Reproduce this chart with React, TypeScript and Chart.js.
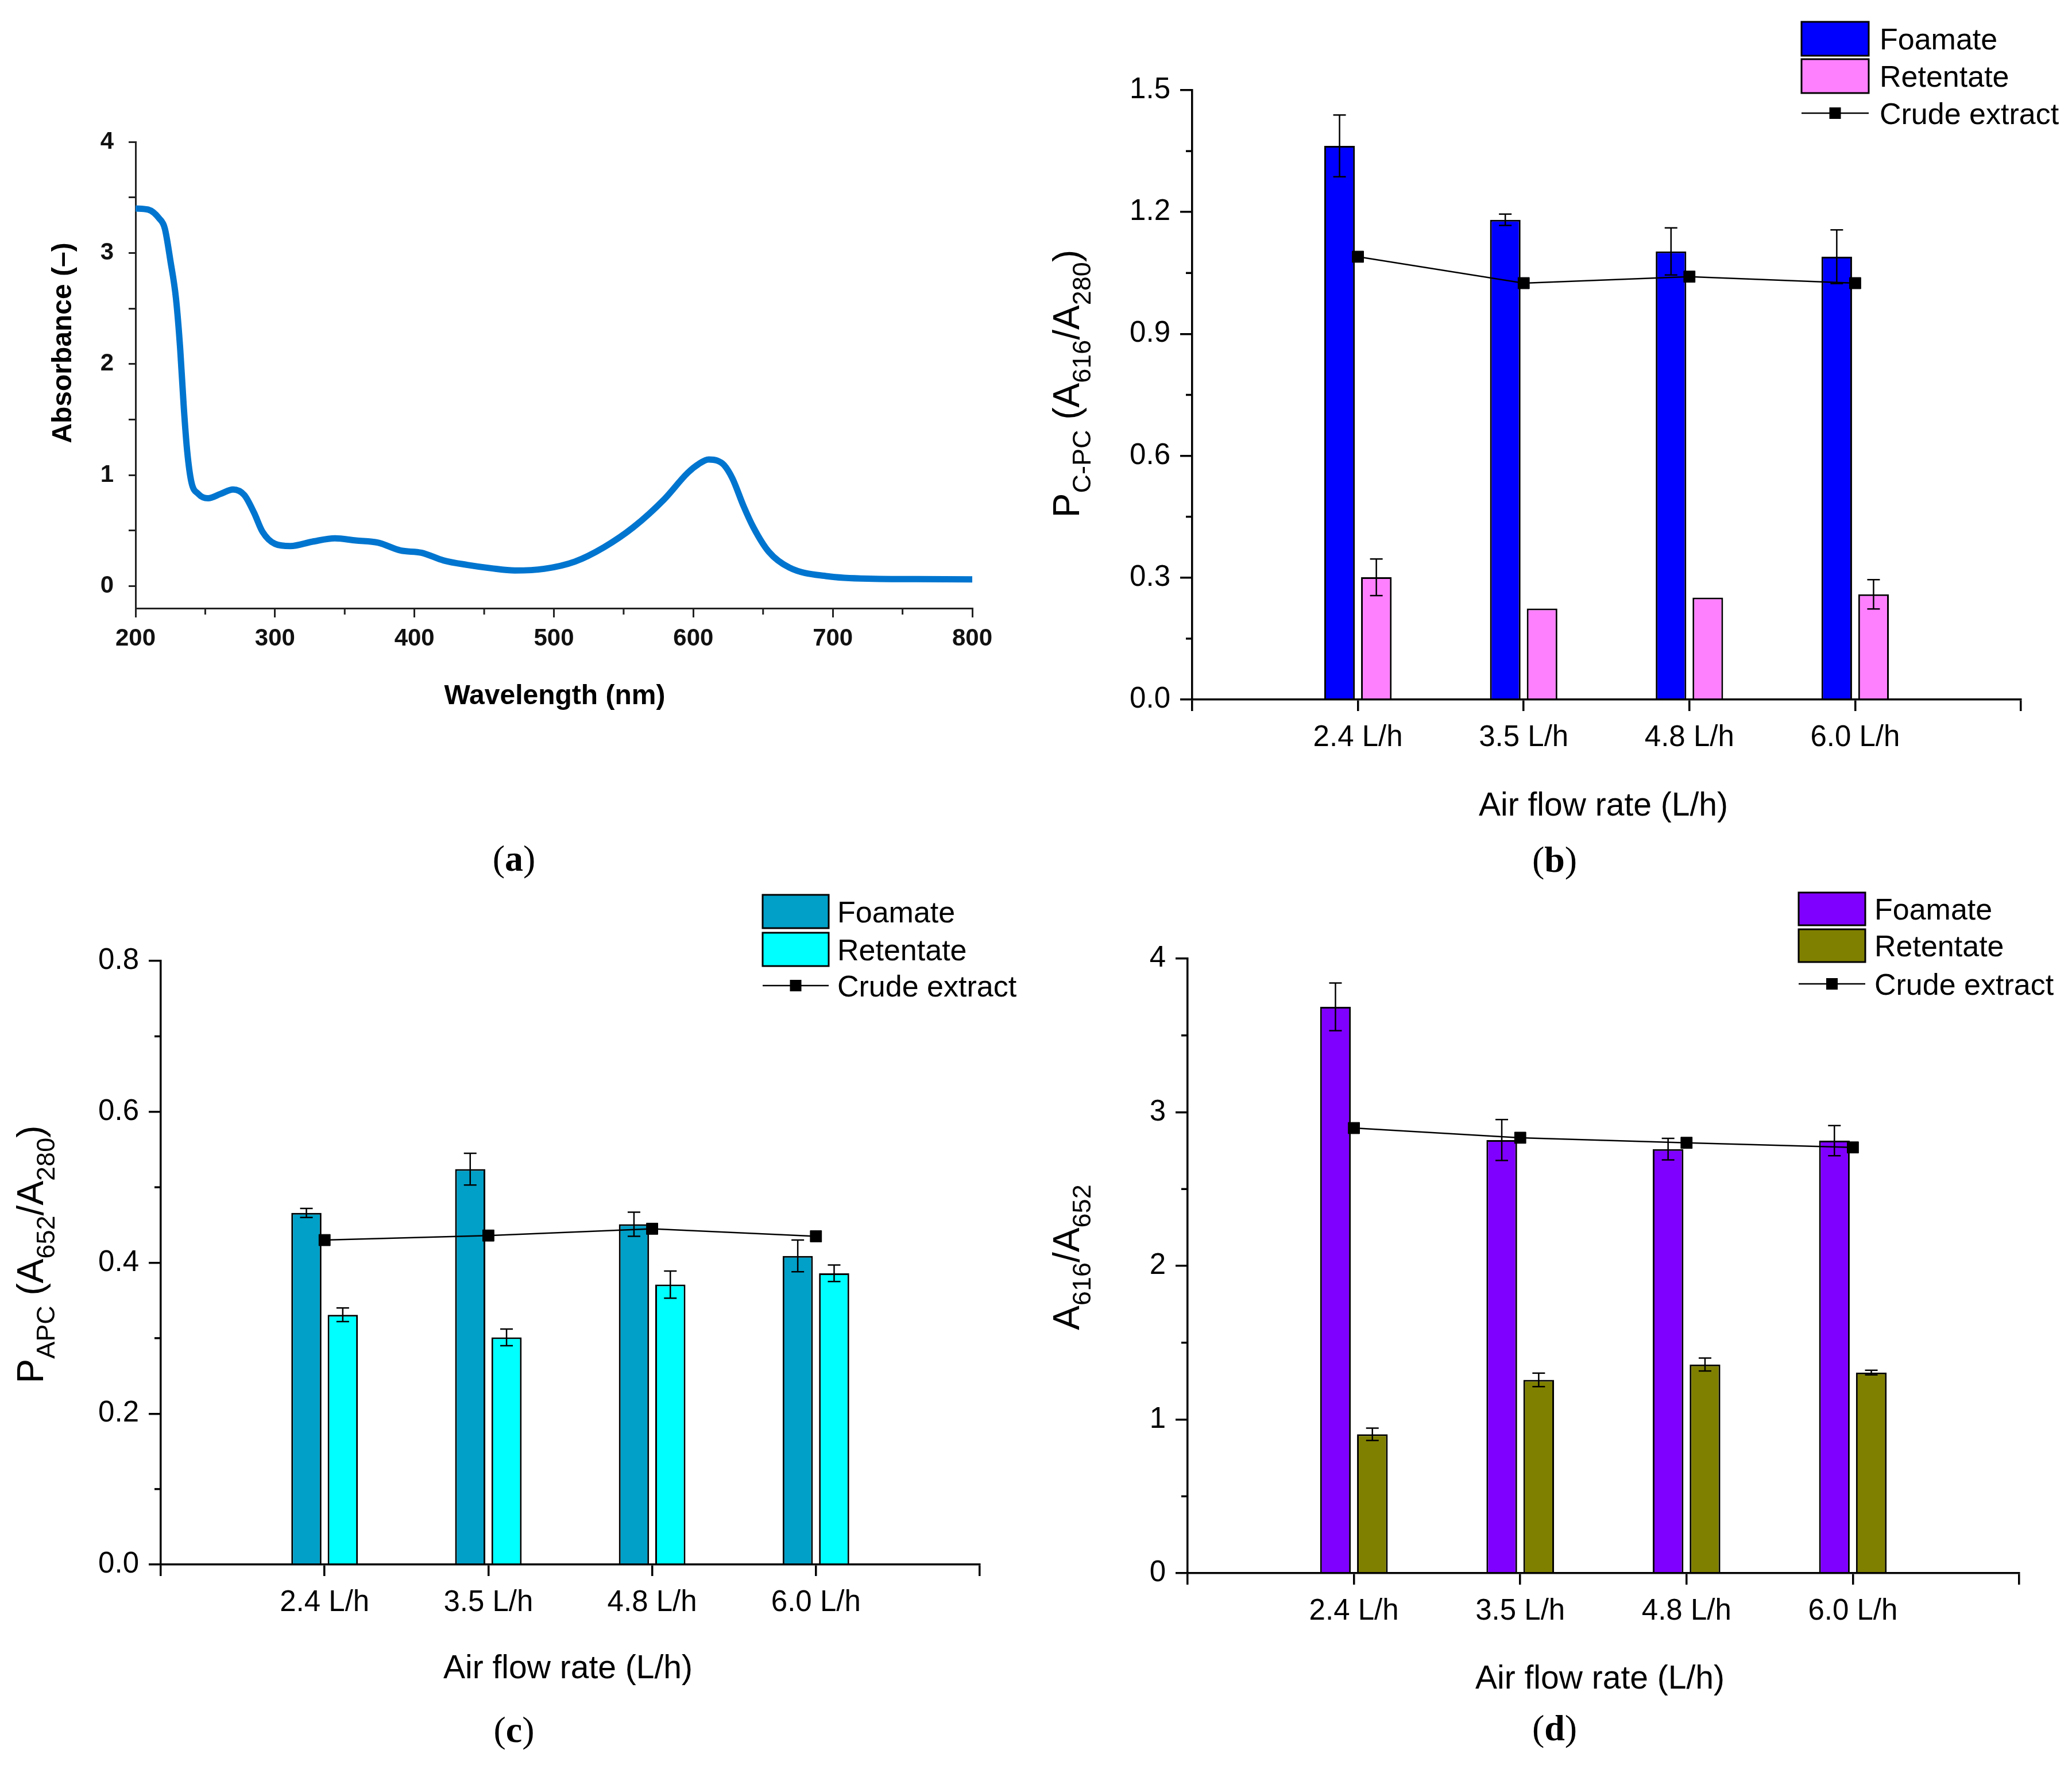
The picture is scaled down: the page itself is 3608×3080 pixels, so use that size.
import { useEffect, useRef } from "react";
import Chart from "chart.js/auto";

const SANS = "'Liberation Sans', Arial, sans-serif";
const SERIF = "'Liberation Serif', 'Times New Roman', serif";

// (a) UV-vis spectrum of the crude extract
const WAVELENGTH = [200, 209, 217, 221, 225, 229, 232, 234.6, 237, 240, 245, 252, 261, 270, 278, 285, 291, 300, 311, 327, 343, 358, 374, 390, 405, 421, 438, 455, 472, 493, 515, 536, 557, 579, 596, 604, 611, 617, 622, 628, 636, 643, 654, 669, 696, 729, 760, 800];
const ABSORBANCE = [3.40, 3.39, 3.31, 3.22, 2.93, 2.59, 2.14, 1.61, 1.22, 0.94, 0.83, 0.79, 0.83, 0.87, 0.82, 0.66, 0.49, 0.38, 0.36, 0.40, 0.43, 0.41, 0.39, 0.32, 0.30, 0.23, 0.19, 0.16, 0.14, 0.155, 0.22, 0.35, 0.53, 0.78, 1.02, 1.10, 1.14, 1.13, 1.09, 0.97, 0.72, 0.53, 0.31, 0.165, 0.088, 0.065, 0.062, 0.06];
const SPEC_X_TICKS = [200, 300, 400, 500, 600, 700, 800];
const SPEC_X_MINOR = [250, 350, 450, 550, 650, 750];
const SPEC_Y_TICKS = [0, 0.5, 1, 1.5, 2, 2.5, 3, 3.5, 4];

// (b)-(d) air flow rate series
const FLOW_RATES = ["2.4 L/h", "3.5 L/h", "4.8 L/h", "6.0 L/h"];
const SERIES_NAMES = ["Foamate", "Retentate", "Crude extract"];

// (b) C-PC purity
const CPC_FOAMATE = [1.363, 1.181, 1.103, 1.09];
const CPC_FOAMATE_ERR = [0.076, 0.014, 0.058, 0.066];
const CPC_RETENTATE = [0.301, 0.224, 0.251, 0.259];
const CPC_RETENTATE_ERR = [0.045, 0, 0, 0.036];
const CPC_CRUDE = [1.09, 1.025, 1.041, 1.025];
const CPC_Y_TICKS = [0, 0.3, 0.6, 0.9, 1.2, 1.5];
const CPC_Y_MINOR = [0.15, 0.45, 0.75, 1.05, 1.35];

// (c) APC purity
const APC_FOAMATE = [0.466, 0.524, 0.451, 0.409];
const APC_FOAMATE_ERR = [0.006, 0.021, 0.016, 0.021];
const APC_RETENTATE = [0.331, 0.301, 0.371, 0.386];
const APC_RETENTATE_ERR = [0.009, 0.011, 0.018, 0.011];
const APC_CRUDE = [0.43, 0.436, 0.445, 0.435];
const APC_Y_TICKS = [0, 0.2, 0.4, 0.6, 0.8];
const APC_Y_MINOR = [0.1, 0.3, 0.5, 0.7];

// (d) A616/A652 ratio
const RATIO_FOAMATE = [3.686, 2.819, 2.76, 2.815];
const RATIO_FOAMATE_ERR = [0.155, 0.133, 0.07, 0.098];
const RATIO_RETENTATE = [0.904, 1.258, 1.358, 1.306];
const RATIO_RETENTATE_ERR = [0.04, 0.044, 0.042, 0.015];
const RATIO_CRUDE = [2.897, 2.834, 2.801, 2.771];
const RATIO_Y_TICKS = [0, 1, 2, 3, 4];
const RATIO_Y_MINOR = [0.5, 1.5, 2.5, 3.5];

const CW = 1804;
const CH = 1540;

type Rect = { l: number; t: number; r: number; b: number };
type Seg = { t: string; sub?: boolean };

function drawRich(ctx: CanvasRenderingContext2D, segs: Seg[], x: number, y: number, size: number, subSize: number, subShift: number, weight: string, vertical: boolean) {
  ctx.save();
  ctx.translate(x, y);
  if (vertical) ctx.rotate(-Math.PI / 2);
  ctx.textBaseline = "alphabetic";
  ctx.textAlign = "left";
  ctx.fillStyle = "#000";
  const fontOf = (s: Seg) => `${weight} ${s.sub ? subSize : size}px ${SANS}`;
  let total = 0;
  for (const s of segs) {
    ctx.font = fontOf(s);
    total += ctx.measureText(s.t).width;
  }
  let cx = -total / 2;
  for (const s of segs) {
    ctx.font = fontOf(s);
    ctx.fillText(s.t, cx, s.sub ? subShift : 0);
    cx += ctx.measureText(s.t).width;
  }
  ctx.restore();
}

interface Deco {
  id: string;
  tickColor: string;
  tickWidth: number;
  yMinor?: number[];
  yMinorLen?: number;
  xMinor?: number[];
  xMinorLen?: number;
  errors?: { dataset: number; err: (number | null)[] }[];
  legend?: { x: number; y: number; w: number; h: number; row: number; lineY: number; tx: number; colors: string[] };
  xTitle: { segs: Seg[]; x: number; y: number; size: number; weight: string };
  yTitle: { segs: Seg[]; x: number; y: number; size: number; subSize: number; subShift: number; weight: string };
}

function decoPlugin(d: Deco) {
  return {
    id: d.id,
    afterDraw(chart: any) {
      const ctx: CanvasRenderingContext2D = chart.ctx;
      const xs = chart.scales.x;
      const ys = chart.scales.y;
      const ca = chart.chartArea;
      ctx.save();
      ctx.strokeStyle = d.tickColor;
      ctx.lineWidth = d.tickWidth;
      // minor ticks
      (d.yMinor || []).forEach((v) => {
        const y = ys.getPixelForValue(v);
        ctx.beginPath();
        ctx.moveTo(ca.left - (d.yMinorLen || 10), y);
        ctx.lineTo(ca.left, y);
        ctx.stroke();
      });
      (d.xMinor || []).forEach((v) => {
        const x = xs.getPixelForValue(v);
        ctx.beginPath();
        ctx.moveTo(x, ca.bottom);
        ctx.lineTo(x, ca.bottom + (d.xMinorLen || 10));
        ctx.stroke();
      });
      // error bars
      ctx.strokeStyle = "#000";
      ctx.lineWidth = 2.5;
      (d.errors || []).forEach(({ dataset, err }) => {
        const meta = chart.getDatasetMeta(dataset);
        const vals = chart.data.datasets[dataset].data;
        meta.data.forEach((el: any, i: number) => {
          const v = vals[i];
          const e = err[i];
          if (v == null || !e) return;
          const y1 = ys.getPixelForValue(v + e);
          const y2 = ys.getPixelForValue(v - e);
          ctx.beginPath();
          ctx.moveTo(el.x, y1);
          ctx.lineTo(el.x, y2);
          ctx.moveTo(el.x - 11, y1);
          ctx.lineTo(el.x + 11, y1);
          ctx.moveTo(el.x - 11, y2);
          ctx.lineTo(el.x + 11, y2);
          ctx.stroke();
        });
      });
      // legend
      if (d.legend) {
        const lg = d.legend;
        ctx.font = `52px ${SANS}`;
        ctx.textBaseline = "alphabetic";
        ctx.textAlign = "left";
        for (let i = 0; i < 2; i++) {
          const y = lg.y + i * lg.row;
          ctx.fillStyle = lg.colors[i];
          ctx.fillRect(lg.x, y, lg.w, lg.h);
          ctx.lineWidth = 3;
          ctx.strokeStyle = "#000";
          ctx.strokeRect(lg.x, y, lg.w, lg.h);
          ctx.fillStyle = "#000";
          ctx.fillText(SERIES_NAMES[i], lg.tx, y + lg.h / 2 + 18.6);
        }
        ctx.lineWidth = 2.5;
        ctx.beginPath();
        ctx.moveTo(lg.x, lg.lineY);
        ctx.lineTo(lg.x + lg.w, lg.lineY);
        ctx.stroke();
        ctx.fillStyle = "#000";
        ctx.fillRect(lg.x + lg.w / 2 - 10, lg.lineY - 10, 20, 20);
        ctx.fillText(SERIES_NAMES[2], lg.tx, lg.lineY + 18.6);
      }
      const xt = d.xTitle;
      drawRich(ctx, xt.segs, xt.x, xt.y, xt.size, xt.size, 0, xt.weight, false);
      const yt = d.yTitle;
      drawRich(ctx, yt.segs, yt.x, yt.y, yt.size, yt.subSize, yt.subShift, yt.weight, true);
      ctx.restore();
    },
  };
}

function axisBase(color: string, width: number, tickLength: number) {
  return {
    grid: { display: true, drawOnChartArea: false, drawTicks: true, tickLength, color, lineWidth: width, offset: false },
    border: { display: true, color, width },
  };
}

function spectrumConfig(area: Rect) {
  const tickFont = { family: SANS, size: 42, weight: "bold" as const };
  return {
    type: "line" as const,
    data: {
      datasets: [
        {
          label: "Absorbance",
          data: WAVELENGTH.map((w, i) => ({ x: w, y: ABSORBANCE[i] })),
          borderColor: "rgb(0,117,207)",
          borderWidth: 11,
          pointRadius: 0,
          cubicInterpolationMode: "monotone" as const,
          fill: false,
        },
      ],
    },
    options: {
      responsive: false,
      animation: false as const,
      devicePixelRatio: 1,
      layout: { padding: { left: 0, top: area.t, right: CW - area.r, bottom: 0 } },
      plugins: { legend: { display: false }, tooltip: { enabled: false } },
      scales: {
        x: {
          type: "linear" as const,
          min: 200,
          max: 800,
          ...axisBase("#222", 3, 16),
          afterBuildTicks: (s: any) => {
            s.ticks = SPEC_X_TICKS.map((v) => ({ value: v }));
          },
          afterFit: (s: any) => {
            s.height = CH - area.b;
          },
          ticks: { color: "#111", font: tickFont, padding: 12, maxRotation: 0 },
        },
        y: {
          type: "linear" as const,
          min: -0.2,
          max: 4,
          ...axisBase("#222", 3, 12),
          afterBuildTicks: (s: any) => {
            s.ticks = SPEC_Y_TICKS.map((v) => ({ value: v }));
          },
          afterFit: (s: any) => {
            s.width = area.l;
          },
          ticks: {
            color: "#111",
            font: tickFont,
            padding: 26,
            callback: (v: any) => (Number.isInteger(Number(v)) ? String(v) : ""),
          },
        },
      },
    },
    plugins: [
      decoPlugin({
        id: "decoA",
        tickColor: "#222",
        tickWidth: 3,
        xMinor: SPEC_X_MINOR,
        xMinorLen: 11,
        xTitle: { segs: [{ t: "Wavelength (nm)" }], x: 966, y: 1226, size: 48, weight: "bold" },
        yTitle: { segs: [{ t: "Absorbance (–)" }], x: 124, y: 597, size: 48, subSize: 48, subShift: 0, weight: "bold" },
      }),
    ],
  };
}

interface BarSpec {
  id: string;
  area: Rect;
  yMax: number;
  yTicks: number[];
  yMinor: number[];
  dec: number;
  foamate: number[];
  foamateErr: number[];
  retentate: number[];
  retentateErr: number[];
  crude: number[];
  colors: string[];
  legend: { x: number; y: number; w: number; h: number; row: number; lineY: number; tx: number };
  xTitle: { x: number; y: number };
  yTitle: { segs: Seg[]; x: number; y: number };
}

const pad = (a: number[]) => [null, ...a, null];

function barConfig(p: BarSpec) {
  const tickFont = { family: SANS, size: 51 };
  const barCommon = { borderColor: "#000", borderWidth: 3, categoryPercentage: 0.444, barPercentage: 0.83, order: 1 };
  return {
    type: "bar" as const,
    data: {
      labels: ["", ...FLOW_RATES, ""],
      datasets: [
        {
          type: "line" as const,
          label: SERIES_NAMES[2],
          data: pad(p.crude),
          order: 0,
          borderColor: "#000",
          borderWidth: 2.5,
          pointStyle: "rect" as const,
          pointRadius: 14,
          pointBackgroundColor: "#000",
          pointBorderColor: "#000",
          pointBorderWidth: 1,
          tension: 0,
          fill: false,
        },
        { label: SERIES_NAMES[0], data: pad(p.foamate), backgroundColor: p.colors[0], ...barCommon },
        { label: SERIES_NAMES[1], data: pad(p.retentate), backgroundColor: p.colors[1], ...barCommon },
      ],
    },
    options: {
      responsive: false,
      animation: false as const,
      devicePixelRatio: 1,
      layout: { padding: { left: 0, top: p.area.t, right: CW - p.area.r, bottom: 0 } },
      plugins: { legend: { display: false }, tooltip: { enabled: false } },
      scales: {
        x: {
          type: "category" as const,
          offset: false,
          ...axisBase("#000", 3.5, 20),
          afterFit: (s: any) => {
            s.height = CH - p.area.b;
          },
          ticks: { color: "#000", font: tickFont, padding: 16, autoSkip: false, maxRotation: 0 },
        },
        y: {
          type: "linear" as const,
          min: 0,
          max: p.yMax,
          ...axisBase("#000", 3.5, 21),
          afterBuildTicks: (s: any) => {
            s.ticks = p.yTicks.map((v) => ({ value: v }));
          },
          afterFit: (s: any) => {
            s.width = p.area.l;
          },
          ticks: { color: "#000", font: tickFont, padding: 17, callback: (v: any) => Number(v).toFixed(p.dec) },
        },
      },
    },
    plugins: [
      decoPlugin({
        id: p.id,
        tickColor: "#000",
        tickWidth: 3.5,
        yMinor: p.yMinor,
        yMinorLen: 11,
        errors: [
          { dataset: 1, err: pad(p.foamateErr) },
          { dataset: 2, err: pad(p.retentateErr) },
        ],
        legend: { ...p.legend, colors: p.colors },
        xTitle: { segs: [{ t: "Air flow rate (L/h)" }], x: p.xTitle.x, y: p.xTitle.y, size: 57, weight: "normal" },
        yTitle: { segs: p.yTitle.segs, x: p.yTitle.x, y: p.yTitle.y, size: 64, subSize: 45, subShift: 20, weight: "normal" },
      }),
    ],
  };
}

function Panel({ left, top, build }: { left: number; top: number; build: () => any }) {
  const ref = useRef<HTMLCanvasElement>(null);
  useEffect(() => {
    if (!ref.current) return;
    const chart = new Chart(ref.current, build());
    return () => chart.destroy();
  }, []);
  return (
    <canvas
      ref={ref}
      width={CW}
      height={CH}
      style={{ position: "absolute", left, top, width: CW, height: CH }}
    />
  );
}

function Tag({ x, y, letter }: { x: number; y: number; letter: string }) {
  return (
    <div
      style={{
        position: "absolute",
        left: x,
        top: y,
        transform: "translate(-50%, -50%)",
        fontFamily: SERIF,
        fontSize: 64,
        lineHeight: 1,
        color: "#000",
      }}
    >
      (<b>{letter}</b>)
    </div>
  );
}

export default function App() {
  Chart.defaults.color = "#000";
  Chart.defaults.font.family = SANS;

  return (
    <div style={{ position: "absolute", left: 0, top: 0, width: 3608, height: 3080, background: "#fff", overflow: "hidden" }}>
      <Panel left={0} top={0} build={() => spectrumConfig({ l: 236, t: 247, r: 1693, b: 1059 })} />
      <Panel
        left={1804}
        top={0}
        build={() =>
          barConfig({
            id: "decoB",
            area: { l: 272, t: 157, r: 1715, b: 1218 },
            yMax: 1.5,
            yTicks: CPC_Y_TICKS,
            yMinor: CPC_Y_MINOR,
            dec: 1,
            foamate: CPC_FOAMATE,
            foamateErr: CPC_FOAMATE_ERR,
            retentate: CPC_RETENTATE,
            retentateErr: CPC_RETENTATE_ERR,
            crude: CPC_CRUDE,
            colors: ["#0000FF", "#FF80FF"],
            legend: { x: 1333, y: 38, w: 117, h: 59, row: 65, lineY: 197, tx: 1469 },
            xTitle: { x: 988, y: 1420 },
            yTitle: {
              segs: [{ t: "P" }, { t: "C-PC", sub: true }, { t: " (A" }, { t: "616", sub: true }, { t: "/A" }, { t: "280", sub: true }, { t: ")" }],
              x: 75,
              y: 668,
            },
          })
        }
      />
      <Panel
        left={0}
        top={1540}
        build={() =>
          barConfig({
            id: "decoC",
            area: { l: 280, t: 133, r: 1706, b: 1184 },
            yMax: 0.8,
            yTicks: APC_Y_TICKS,
            yMinor: APC_Y_MINOR,
            dec: 1,
            foamate: APC_FOAMATE,
            foamateErr: APC_FOAMATE_ERR,
            retentate: APC_RETENTATE,
            retentateErr: APC_RETENTATE_ERR,
            crude: APC_CRUDE,
            colors: ["#00A0C8", "#00FFFF"],
            legend: { x: 1328, y: 18, w: 115, h: 58, row: 66, lineY: 176, tx: 1458 },
            xTitle: { x: 989, y: 1382 },
            yTitle: {
              segs: [{ t: "P" }, { t: "APC", sub: true }, { t: " (A" }, { t: "652", sub: true }, { t: "/A" }, { t: "280", sub: true }, { t: ")" }],
              x: 75,
              y: 644,
            },
          })
        }
      />
      <Panel
        left={1804}
        top={1540}
        build={() =>
          barConfig({
            id: "decoD",
            area: { l: 264, t: 129, r: 1712, b: 1199 },
            yMax: 4,
            yTicks: RATIO_Y_TICKS,
            yMinor: RATIO_Y_MINOR,
            dec: 0,
            foamate: RATIO_FOAMATE,
            foamateErr: RATIO_FOAMATE_ERR,
            retentate: RATIO_RETENTATE,
            retentateErr: RATIO_RETENTATE_ERR,
            crude: RATIO_CRUDE,
            colors: ["#8000FF", "#808000"],
            legend: { x: 1328, y: 14, w: 116, h: 57, row: 64, lineY: 173, tx: 1460 },
            xTitle: { x: 982, y: 1400 },
            yTitle: {
              segs: [{ t: "A" }, { t: "616", sub: true }, { t: "/A" }, { t: "652", sub: true }],
              x: 75,
              y: 649,
            },
          })
        }
      />
      <Tag x={895} y={1495} letter="a" />
      <Tag x={2707} y={1497} letter="b" />
      <Tag x={895} y={3012} letter="c" />
      <Tag x={2707} y={3009} letter="d" />
    </div>
  );
}
